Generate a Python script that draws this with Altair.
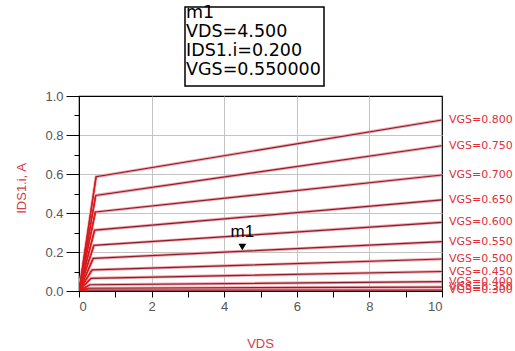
import altair as alt
import pandas as pd

# Gate-voltage sweep of the device
vgs = [0.80, 0.75, 0.70, 0.65, 0.60, 0.55, 0.50, 0.45, 0.40, 0.35, 0.30]
# Drain voltage where each curve leaves the linear region
vds_knee = [0.47, 0.46, 0.45, 0.43, 0.41, 0.39, 0.36, 0.33, 0.30, 0.26, 0.22]
# Drain current at the knee and at VDS = 10 V
ids_knee = [0.586, 0.490, 0.405, 0.312, 0.234, 0.167, 0.108, 0.065, 0.032, 0.014, 0.004]
ids_end = [0.877, 0.745, 0.595, 0.467, 0.352, 0.253, 0.164, 0.100, 0.048, 0.020, 0.005]

# Marker readout
m1_vds, m1_ids, m1_vgs = 4.5, 0.200, 0.55

rows = []
for v, k, ik, ie in zip(vgs, vds_knee, ids_knee, ids_end):
    for x, y in ((0.0, 0.0), (k, ik), (10.0, ie)):
        rows.append({"VGS": v, "VDS": x, "IDS": y})
curves = pd.DataFrame(rows)

labels = pd.DataFrame({
    "VDS": [10.0] * len(vgs),
    "IDS": ids_end,
    "txt": [f"VGS={v:.3f}" for v in vgs],
})

marker = pd.DataFrame({"VDS": [m1_vds], "IDS": [m1_ids], "name": ["m1"]})

readout_text = "\n".join(["m1", f"VDS={m1_vds:.3f}", f"IDS1.i={m1_ids:.3f}", f"VGS={m1_vgs:.6f}"])
readout = pd.DataFrame({"txt": [readout_text]})

RED = "#d23c4c"
LINE_CORE = "#8e1c28"
LINE_HALO = "#efa9b0"

x_enc = alt.X(
    "VDS:Q",
    scale=alt.Scale(domain=[0, 10], nice=False),
    axis=alt.Axis(
        values=list(range(0, 11)),
        tickCount=40,
        labelExpr="datum.value % 2 == 0 ? format(datum.value, 'd') : ''",
        labelOverlap=False,
        ticks=True,
        tickSize=6,
        tickWidth=1,
        tickColor="black",
        domainColor="black",
        grid=True,
        gridColor="#c4c4c4",
        gridOpacity={"condition": {"test": "datum.value % 2 == 0 && datum.value > 0 && datum.value < 10", "value": 1}, "value": 0},
        labelFont="Liberation Sans",
        labelFontSize=13,
        labelColor="#555555",
        labelPadding=3,
        title="VDS",
        titleFont="Liberation Sans",
        titleFontSize=13,
        titleFontWeight="normal",
        titleColor=RED,
        titleX=181,
        titleY=52,
        titleBaseline="middle",
    ),
)

y_enc = alt.Y(
    "IDS:Q",
    scale=alt.Scale(domain=[0, 1], nice=False),
    axis=alt.Axis(
        values=[round(i * 0.1, 1) for i in range(0, 11)],
        tickCount=40,
        labelExpr="round(datum.value * 10) % 2 == 0 ? format(datum.value, '.1f') : ''",
        labelOverlap=False,
        ticks=True,
        tickSize={"condition": {"test": "round(datum.value * 10) % 2 == 0", "value": 13}, "value": 5},
        tickWidth=1,
        tickColor="black",
        domainColor="black",
        grid=True,
        gridColor="#c4c4c4",
        gridOpacity={"condition": {"test": "round(datum.value * 10) % 2 == 0 && datum.value > 0.05 && datum.value < 0.95", "value": 1}, "value": 0},
        labelFont="Liberation Sans",
        labelFontSize=13,
        labelColor="#555555",
        labelPadding=3,
        title="IDS1.i, A",
        titleFont="Liberation Sans",
        titleFontSize=13,
        titleFontWeight="normal",
        titleColor=RED,
        titleX=-58,
        titleY=92,
        titleAngle=-90,
        titleAlign="center",
        titleBaseline="middle",
    ),
)

halo = alt.Chart(curves).mark_line(color=LINE_HALO, strokeWidth=3.0, clip=True).encode(
    x=x_enc, y=y_enc, detail="VGS:N", order="VDS:Q"
)
core = alt.Chart(curves).mark_line(color=LINE_CORE, strokeWidth=1.2, clip=True).encode(
    x="VDS:Q", y="IDS:Q", detail="VGS:N", order="VDS:Q"
)
fan = alt.Chart(curves[curves["VDS"] < 1]).mark_line(color="#e01818", strokeWidth=1.4, clip=True).encode(
    x="VDS:Q", y="IDS:Q", detail="VGS:N", order="VDS:Q"
)

curve_labels = alt.Chart(labels).mark_text(
    align="left", baseline="middle", dx=7, font="DejaVu Sans", fontSize=11, color="#e0303a"
).encode(x="VDS:Q", y="IDS:Q", text="txt:N")

tri = alt.Chart(marker).mark_point(
    shape="triangle-down", filled=True, color="black", size=60, opacity=1, yOffset=-5
).encode(x="VDS:Q", y="IDS:Q")

tri_label = alt.Chart(marker).mark_text(
    font="Liberation Sans", fontSize=17, color="black", baseline="middle", dy=-20
).encode(x="VDS:Q", y="IDS:Q", text="name:N")

box = alt.Chart(pd.DataFrame({"a": [0]})).mark_rect(
    fill="white", stroke="black", strokeWidth=1.5
).encode(x=alt.value(106), x2=alt.value(245), y=alt.value(-89), y2=alt.value(-10))

box_text = alt.Chart(readout).mark_text(
    align="left", baseline="alphabetic", font="DejaVu Sans", fontSize=17.5, color="black",
    lineBreak="\n", lineHeight=19,
).encode(x=alt.value(107), y=alt.value(-78), text="txt:N")

chart = (
    alt.layer(halo, core, fan, curve_labels, tri, tri_label, box, box_text)
    .properties(
        width=363,
        height=195,
        autosize=alt.AutoSizeParams(type="none"),
        padding={"left": 79, "top": 96, "right": 73, "bottom": 60},
        background="white",
    )
    .configure_view(stroke="black", strokeWidth=1.2)
)

chart.save("out.html", embed_options={"renderer": "svg", "actions": False})
